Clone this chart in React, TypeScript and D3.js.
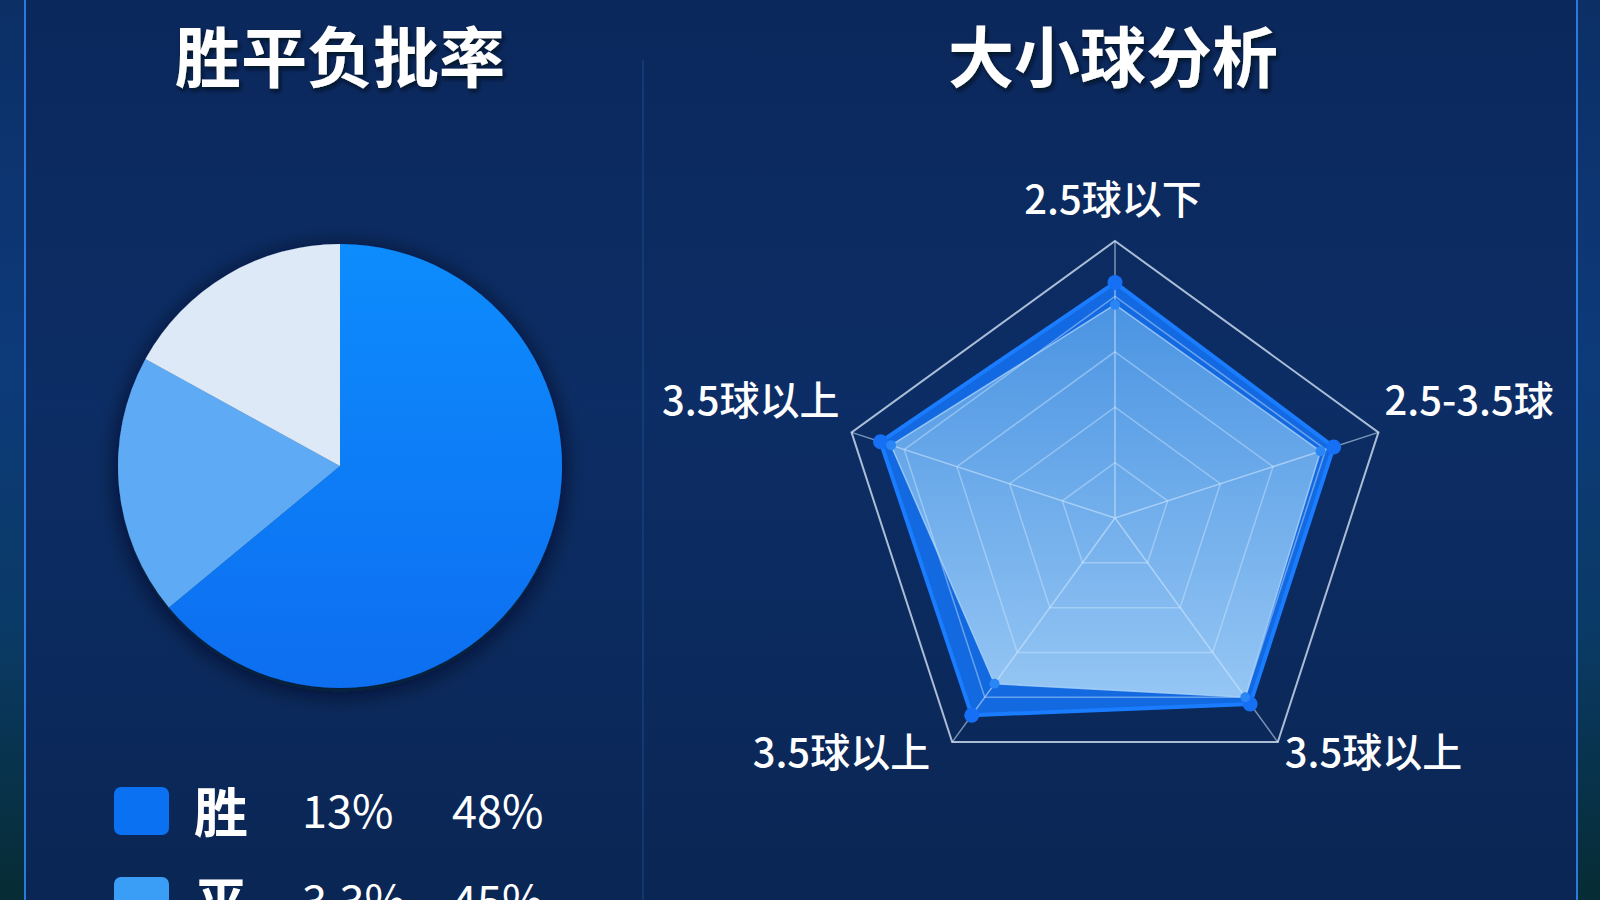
import React from 'react';
import * as d3 from 'd3';

// ---------- data ----------
const pieCategories = ['胜', '平', '负'];
const pieValues = [64, 19, 17];
const pieColors = ['#0b80fa', '#5eaaf5', '#dde9f7'];

const legendLabels = ['胜', '平'];
const legendRateA = ['13%', '3.3%'];
const legendRateB = ['48%', '45%'];
const legendColors = ['#0a72f2', '#3a9ef6'];

const radarAxes = ['2.5球以下', '2.5-3.5球', '3.5球以上', '3.5球以上', '3.5球以上'];
const seriesA = [85, 83, 83, 88, 89];
const seriesB = [77, 78, 80, 74, 85];
const radarLevels = [20, 40, 60, 80, 100];

const titles = ['胜平负批率', '大小球分析'];

const FONT = '"Noto Sans CJK SC", "Noto Sans", sans-serif';

export default function App() {
  // pie
  const pcx = 340, pcy = 466, pr = 222;
  const pie = d3.pie<number>().sort(null).value((d) => d)(pieValues);
  const arc = d3.arc<d3.PieArcDatum<number>>().innerRadius(0).outerRadius(pr);

  // radar
  const rcx = 1115, rcy = 518;
  const rScale = d3.scaleLinear().domain([0, 100]).range([0, 277]);
  const n = radarAxes.length;
  const ang = (i: number) => (i * 2 * Math.PI) / n;
  const radial = d3
    .lineRadial<number>()
    .angle((_, i) => ang(i))
    .radius((d) => rScale(d))
    .curve(d3.curveLinearClosed);
  const pt = (v: number, i: number): [number, number] => [
    rcx + rScale(v) * Math.sin(ang(i)),
    rcy - rScale(v) * Math.cos(ang(i)),
  ];
  const labelOffsets: { anchor: string; dx: number; dy: number }[] = [
    { anchor: 'middle', dx: -2, dy: -27 },
    { anchor: 'start', dx: 6, dy: -17 },
    { anchor: 'start', dx: 7, dy: 25 },
    { anchor: 'end', dx: -22, dy: 25 },
    { anchor: 'end', dx: -12, dy: -17 },
  ];

  return (
    <svg
      width={1600}
      height={900}
      style={{ position: 'fixed', left: 0, top: 0 }}
      fontFamily={FONT}
    >
      <defs>
        <linearGradient id="panelBg" x1="0" y1="0" x2="0" y2="1">
          <stop offset="0%" stopColor="#0b285c" />
          <stop offset="45%" stopColor="#0c2d65" />
          <stop offset="100%" stopColor="#0a2654" />
        </linearGradient>
        <linearGradient id="sideBg" x1="0" y1="0" x2="0" y2="1">
          <stop offset="0%" stopColor="#0c2f66" />
          <stop offset="40%" stopColor="#0d3a7a" />
          <stop offset="70%" stopColor="#0a3a66" />
          <stop offset="100%" stopColor="#062c34" />
        </linearGradient>
        <linearGradient id="pieMain" x1="0" y1="0" x2="0" y2="1">
          <stop offset="0%" stopColor="#0a8cfd" />
          <stop offset="100%" stopColor="#0b6ef0" />
        </linearGradient>
        <linearGradient id="radarB" x1="0" y1="0" x2="0" y2="1">
          <stop offset="0%" stopColor="#4d96e2" />
          <stop offset="100%" stopColor="#9ccbf5" />
        </linearGradient>
        <filter id="pieShadow" x="-30%" y="-30%" width="160%" height="160%">
          <feDropShadow dx="0" dy="4" stdDeviation="11" floodColor="#000814" floodOpacity="0.8" />
        </filter>
        <filter id="textShadow" x="-20%" y="-20%" width="140%" height="150%">
          <feDropShadow dx="2" dy="3" stdDeviation="2" floodColor="#000a1e" floodOpacity="0.8" />
        </filter>
      </defs>

      {/* background */}
      <rect x={0} y={0} width={1600} height={900} fill="url(#sideBg)" />
      <rect x={25} y={0} width={1552} height={900} fill="url(#panelBg)" />
      <line x1={25} y1={0} x2={25} y2={900} stroke="#2b7ae0" strokeWidth={2} />
      <line x1={1577} y1={0} x2={1577} y2={900} stroke="#2b7ae0" strokeWidth={2} />
      <line x1={643} y1={60} x2={643} y2={900} stroke="#1d4f8f" strokeWidth={1.5} opacity={0.6} />

      {/* titles */}
      <g filter="url(#textShadow)">
        <text x={340} y={82} textAnchor="middle" fontSize={66} fontWeight={700} fill="#ffffff">
          {titles[0]}
        </text>
        <text x={1113} y={82} textAnchor="middle" fontSize={66} fontWeight={700} fill="#ffffff">
          {titles[1]}
        </text>
      </g>

      {/* pie */}
      <g transform={`translate(${pcx},${pcy})`} filter="url(#pieShadow)">
        {pie.map((d, i) => (
          <path
            key={pieCategories[i]}
            d={arc(d) || ''}
            fill={i === 0 ? 'url(#pieMain)' : pieColors[i]}
          />
        ))}
      </g>

      {/* legend */}
      {legendLabels.map((lab, i) => {
        const y0 = 787 + i * 90;
        return (
          <g key={lab + i}>
            <rect x={114} y={y0} width={55} height={48} rx={7} fill={legendColors[i]} />
            <text x={194} y={y0 + 46} fontSize={54} fontWeight={700} fill="#ffffff">
              {lab}
            </text>
            <text x={302} y={y0 + 41} fontSize={45} fill="#ffffff">
              {legendRateA[i]}
            </text>
            <text x={452} y={y0 + 41} fontSize={45} fill="#ffffff">
              {legendRateB[i]}
            </text>
          </g>
        );
      })}

      {/* radar */}
      <g>
        <path
          transform={`translate(${rcx},${rcy})`}
          d={radial(seriesA) || ''}
          fill="#1470ee"
          fillOpacity={0.9}
        />
        <path
          transform={`translate(${rcx},${rcy})`}
          d={radial(seriesB) || ''}
          fill="url(#radarB)"
          fillOpacity={0.95}
        />
        {radarLevels.map((lv, li) => (
          <path
            key={lv}
            transform={`translate(${rcx},${rcy})`}
            d={radial(radarAxes.map(() => lv)) || ''}
            fill="none"
            stroke={li === radarLevels.length - 1 ? '#c8d6ea' : '#cfe6ff'}
            strokeOpacity={li === radarLevels.length - 1 ? 0.85 : 0.45}
            strokeWidth={li === radarLevels.length - 1 ? 2 : 1.5}
          />
        ))}
        {radarAxes.map((_, i) => {
          const [x, y] = pt(100, i);
          return (
            <line key={'sp' + i} x1={rcx} y1={rcy} x2={x} y2={y} stroke="#d6e9ff" strokeOpacity={0.55} strokeWidth={1.5} />
          );
        })}
        <path
          transform={`translate(${rcx},${rcy})`}
          d={radial(seriesA) || ''}
          fill="none"
          stroke="#1a7cff"
          strokeWidth={4}
          strokeLinejoin="round"
        />
        <path
          transform={`translate(${rcx},${rcy})`}
          d={radial(seriesB) || ''}
          fill="none"
          stroke="#a9d2fa"
          strokeWidth={1.5}
          strokeOpacity={0.8}
        />
        {seriesA.map((v, i) => {
          const [x, y] = pt(v, i);
          return <circle key={'a' + i} cx={x} cy={y} r={7.5} fill="#1670f5" />;
        })}
        {seriesB.map((v, i) => {
          const [x, y] = pt(v, i);
          return <circle key={'b' + i} cx={x} cy={y} r={5} fill="#2a86f5" />;
        })}
        {radarAxes.map((lab, i) => {
          const [x, y] = pt(100, i);
          const o = labelOffsets[i];
          return (
            <text
              key={'l' + i}
              x={x + o.dx}
              y={y + o.dy}
              textAnchor={o.anchor}
              fontSize={40}
              fontWeight={500}
              fill="#ffffff"
            >
              {lab}
            </text>
          );
        })}
      </g>
    </svg>
  );
}
